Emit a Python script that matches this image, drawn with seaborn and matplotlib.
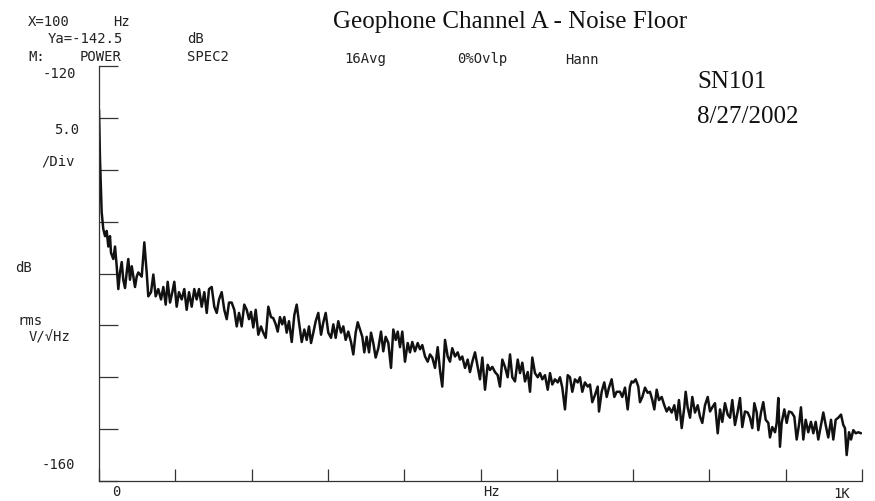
import matplotlib
matplotlib.use("Agg")
import matplotlib.pyplot as plt
import seaborn as sns
import pandas as pd

# ---- data (frequency in Hz, level in dB) ----
freq_hz = [
    0.0, 1.3, 3.5, 5.6, 7.9, 10.1, 12.2, 14.4, 15.7, 18.7, 21.0, 23.2, 25.3, 27.5, 29.8, 31.8,
    34.1, 36.3, 38.4, 40.6, 42.9, 45.0, 47.2, 49.4, 51.5, 56.0, 59.4, 62.5, 64.6, 68.2, 71.2,
    74.3, 77.7, 81.3, 84.3, 87.4, 90.0, 93.1, 96.1, 98.7, 101.8, 104.8, 108.4, 111.8, 114.9,
    118.0, 121.5, 124.9, 128.0, 131.1, 134.6, 138.0, 141.2, 144.2, 147.7, 151.1, 154.3, 157.3,
    160.8, 164.2, 167.4, 170.4,
    173.9, 177.3, 180.5, 183.5, 187.0, 190.4, 193.6, 196.6, 199.2, 202.2, 205.4, 208.8, 212.3,
    215.3, 218.5, 221.9, 225.4, 228.4, 231.6, 234.2, 237.2, 240.2, 242.9, 246.0, 249.0, 252.6,
    256.0, 259.1, 262.1, 265.7, 269.1, 272.2, 275.2, 277.9, 280.9, 284.0, 287.4, 291.0, 294.0,
    297.1, 300.5, 304.1, 307.1, 310.2, 313.6, 317.2, 320.2, 323.3, 326.7, 330.3, 333.3, 336.4,
    339.1, 342.1, 345.1, 347.7, 350.8, 353.9, 356.5, 359.5, 362.6, 366.1, 369.6, 372.6, 375.7,
    379.2, 382.7, 385.7, 388.9, 391.5, 394.5, 397.5, 401.0, 404.6, 407.6, 410.6, 414.1, 417.7,
    420.7, 423.7, 427.3, 430.8, 433.8, 436.8, 440.4, 443.9, 446.9, 449.9, 453.5, 457.0, 460.0,
    463.0, 466.6, 470.1, 473.1, 476.1, 479.7, 483.2, 486.2, 489.3, 492.8, 496.3, 499.3, 502.4,
    505.9, 509.4,
    512.4, 515.5, 519.0, 522.5, 525.5, 528.6, 532.1, 535.6, 538.7, 541.7, 545.2, 548.8, 551.8,
    554.8, 558.3, 561.9, 564.9, 567.9, 571.4, 575.0, 578.0, 581.0, 584.5, 588.1, 591.1, 594.1,
    597.6, 601.2, 604.2, 607.2, 610.7, 614.3, 617.3, 620.3, 623.8, 627.4, 630.4, 633.4, 636.9,
    640.5, 643.5, 646.5, 650.1, 653.6, 655.3, 658.8, 662.2, 665.4, 668.4, 671.9, 675.4, 678.5,
    682.8, 685.8, 689.4, 692.9, 695.9, 698.1, 700.3, 703.4, 706.8, 709.0, 712.1, 715.6, 719.1,
    722.1, 725.2, 727.8, 730.9, 733.9, 737.5, 740.9, 744.0, 747.0, 750.6, 754.0, 757.1, 760.1,
    763.7, 767.1, 768.9, 771.5, 774.6, 777.6, 781.1, 784.7, 787.7, 790.7, 794.2, 797.8, 800.8,
    803.8, 807.3, 810.9, 813.9, 816.9, 820.4, 824.0, 827.0, 830.0, 833.5, 837.1, 840.1, 843.1,
    846.6,
    850.2, 853.2, 856.2, 858.9, 862.0, 864.1, 867.6, 870.6, 873.8, 877.2, 879.4, 882.4, 886.0,
    888.2, 890.3, 892.5, 894.7, 898.2, 901.3, 904.3, 907.8, 911.3, 914.4, 917.4, 920.0, 923.1,
    926.2, 929.6, 933.1, 936.2, 939.3, 942.7, 946.3, 949.3, 952.4, 955.8, 959.4, 962.4, 965.5,
    968.9, 972.5, 975.5, 977.7, 979.9, 983.0, 985.6, 988.6, 991.8, 995.2, 998.7,
]

level_db = [
    -124.2, -129.0, -134.1, -135.7, -136.4, -135.9, -137.4, -136.4, -138.0, -138.6, -137.4,
    -139.3, -141.5, -139.9, -138.9, -140.6, -141.4, -139.9, -138.6, -140.6, -139.3, -140.3,
    -141.3, -140.3, -139.9, -140.3, -137.0, -139.9, -142.2, -141.8, -140.1, -142.2, -141.5,
    -142.5, -141.3, -143.0, -140.8, -142.8, -141.8, -140.8, -143.2, -141.8, -142.5, -141.5,
    -143.5, -141.8, -143.2, -141.5, -142.5, -141.5, -143.2, -141.8, -143.8, -141.5, -141.3,
    -143.2, -143.8, -142.5, -141.8, -143.5, -144.4, -142.8,
    -142.8, -143.5, -145.1, -143.8, -145.1, -143.0, -143.5, -144.4, -143.7, -145.2, -143.5,
    -145.9, -145.1, -145.7, -146.2, -143.2, -144.2, -144.3, -144.9, -145.6, -144.2, -144.9,
    -144.2, -145.7, -144.6, -146.6, -144.0, -143.0, -144.7, -146.6, -145.4, -146.4, -145.1,
    -146.7, -145.7, -144.6, -143.8, -145.9, -144.7, -143.8, -145.7, -146.2, -144.9, -146.2,
    -144.6, -145.7, -145.1, -146.4, -145.6, -146.6, -147.8, -145.7,
    -144.7, -145.4, -146.1, -147.6, -146.1, -147.6, -145.7, -146.7, -148.1, -147.2, -145.6,
    -147.5, -146.1, -146.7, -149.1, -145.4, -146.4, -145.6, -147.1, -145.6, -148.5, -146.7,
    -147.6, -146.6, -147.5, -146.7, -147.3, -146.9, -148.0, -148.5, -147.8, -148.1, -149.1,
    -147.1, -149.3, -150.9, -146.4, -148.0, -148.5, -147.2, -148.0, -147.6, -148.3, -148.0,
    -149.1, -148.3, -149.5, -148.5, -147.6, -149.0, -150.2, -148.1, -151.2, -148.8,
    -149.3, -149.0, -149.5, -149.8, -150.9, -148.3, -149.0, -150.0, -147.8, -150.0, -150.4,
    -148.3, -149.6, -148.6, -150.4, -149.5, -151.4, -148.1, -149.6, -150.0, -149.6, -150.2,
    -149.8, -151.2, -149.6, -150.7, -150.2, -150.5, -150.0, -151.0, -153.1, -149.8, -150.0,
    -151.4, -150.2, -150.5, -150.0, -151.4, -150.5, -150.9, -150.7, -152.4, -151.7, -150.9,
    -153.3, -151.4, -150.5, -151.9, -151.0, -150.2, -151.9, -151.4,
    -151.4, -151.9, -151.0, -153.1, -150.9, -150.4, -150.5, -150.2, -150.9, -152.4, -151.9,
    -151.0, -151.5, -151.4, -152.2, -153.1, -151.2, -152.2, -151.9, -152.7, -153.3, -152.9,
    -153.4, -152.7, -154.1, -152.2, -154.9, -152.9, -151.4, -152.9, -153.9, -151.9, -153.4,
    -152.7, -153.8, -154.4, -152.7, -151.9, -153.3, -152.9, -152.5, -155.4, -153.1, -154.3,
    -152.5, -153.6, -153.9, -152.2, -154.6, -153.3, -152.0, -154.8, -153.3,
    -153.4, -153.9, -154.9, -152.5, -153.4, -155.1, -153.4, -152.4, -154.1, -154.4, -155.8,
    -154.8, -155.3, -154.4, -152.0, -156.7, -154.4, -153.1, -154.4, -153.3, -153.4, -153.8,
    -156.0, -154.6, -152.9, -156.0, -154.1, -155.3, -154.3, -155.4, -154.3, -156.0, -154.6,
    -153.4, -154.6, -155.8, -154.1, -156.0, -154.1, -153.9, -153.6, -154.6, -154.9, -157.5,
    -155.3, -156.0, -155.1, -155.4, -155.3, -155.4,
]

y_ticks_db = [-160, -155, -150, -145, -140, -135, -130, -125, -120]
x_ticks_hz = [0, 100, 200, 300, 400, 500, 600, 700, 800, 900, 1000]

title_text = "Geophone Channel A - Noise Floor"
serial_text = "SN101"
date_text = "8/27/2002"

W, H = 875, 502
DPI = 100

sns.set_theme(style="white")
plt.rcParams["font.family"] = ["DejaVu Sans Mono", "DejaVu Sans"]

fig = plt.figure(figsize=(W / DPI, H / DPI), dpi=DPI)
fig.patch.set_facecolor("white")

ax_left, ax_right, ax_top, ax_bottom = 99, 862, 67, 482
ax = fig.add_axes([ax_left / W, 1 - ax_bottom / H,
                   (ax_right - ax_left) / W, (ax_bottom - ax_top) / H])
ax.set_facecolor("white")

df = pd.DataFrame({"freq": freq_hz, "level": level_db})
sns.lineplot(data=df, x="freq", y="level", ax=ax, color="#111111",
             linewidth=1.8, sort=False, estimator=None)

ax.set_xlim(0, 1000)
ax.set_ylim(-160, -120)
ax.set_xlabel("")
ax.set_ylabel("")

for s in ["top", "right"]:
    ax.spines[s].set_visible(False)
for s in ["left", "bottom"]:
    ax.spines[s].set_visible(True)
    ax.spines[s].set_color("#333333")
    ax.spines[s].set_linewidth(0.9)

ax.set_yticks(y_ticks_db)
ax.set_yticklabels([""] * len(y_ticks_db))
ax.set_xticks(x_ticks_hz)
ax.set_xticklabels([""] * len(x_ticks_hz))
ax.tick_params(axis="y", direction="in", length=13.5, width=0.9, color="#333333", left=True)
ax.tick_params(axis="x", direction="in", length=9, width=0.9, color="#333333", bottom=True)
ax.grid(False)


def px(x, y):
    return x / W, 1 - y / H


mono = dict(fontsize=10, color="#222222", ha="center", va="center")
words = [
    ("X=100", 49, 22), ("Hz", 121.5, 22),
    ("Ya=-142.5", 85, 39), ("dB", 196, 39),
    ("M:", 37, 57), ("POWER", 101, 57), ("SPEC2", 207.5, 57),
    ("-120", 59, 74),
    ("16Avg", 365, 59.5), ("0%Ovlp", 482.5, 59.5), ("Hann", 581.5, 59.5),
    ("5.0", 66.5, 130), ("/Div", 58.5, 162),
    ("dB", 24, 268),
    ("rms", 30, 321), ("V/√Hz", 50, 338),
    ("-160", 58.5, 465),
    ("0", 116, 492), ("Hz", 491, 492), ("1K", 842, 494),
]
for t, x, y in words:
    fig.text(*px(x, y), t, **mono)

serif = dict(fontsize=18, color="#111111", family=["Liberation Serif", "DejaVu Serif"],
             va="center", ha="left")
fig.text(*px(333, 22), title_text, **serif)
fig.text(*px(697, 82), serial_text, **serif)
fig.text(*px(697, 117), date_text, **serif)

fig.savefig("out.png", dpi=DPI, facecolor="white")
